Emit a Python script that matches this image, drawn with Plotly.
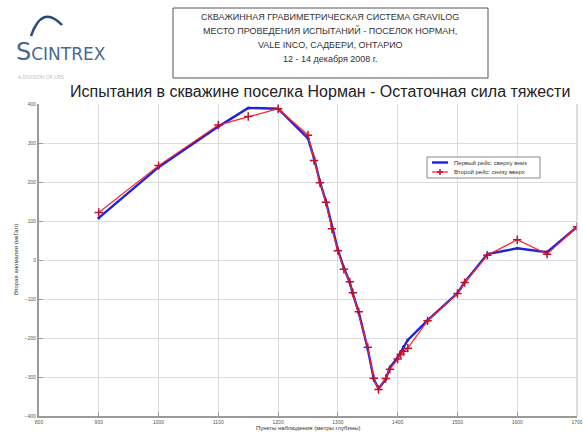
import plotly.graph_objects as go

depth = [900, 1000, 1100, 1150, 1200, 1250, 1260, 1270, 1280, 1290, 1300, 1310, 1320, 1325, 1335,
         1350, 1360, 1368, 1380, 1387, 1400, 1405, 1410, 1417, 1450, 1500, 1512, 1550, 1600, 1650, 1700]
run1 = [108, 238, 342, 390, 388, 312, 262, 200, 150, 85, 26, -20, -58, -86, -135,
        -228, -305, -330, -306, -276, -250, -236, -222, -205, -155, -85, -57, 15, 30, 20, 85]
run2 = [122, 242, 346, 368, 388, 320, 255, 198, 148, 80, 24, -24, -56, -84, -133,
        -224, -303, -332, -304, -280, -254, -242, -234, -226, -156, -86, -58, 12, 52, 15, 85]

x_ticks = [800, 900, 1000, 1100, 1200, 1300, 1400, 1500, 1600, 1700]
y_ticks = [-400, -300, -200, -100, 0, 100, 200, 300, 400]

name1 = "Первый рейс: сверху вниз"
name2 = "Второй рейс: снизу вверх"

header_lines = ["СКВАЖИННАЯ ГРАВИМЕТРИЧЕСКАЯ СИСТЕМА GRAVILOG",
                "МЕСТО ПРОВЕДЕНИЯ ИСПЫТАНИЙ - ПОСЕЛОК НОРМАН,",
                "VALE INCO, САДБЕРИ, ОНТАРИО",
                "12 - 14 декабря 2008 г."]
chart_title = "Испытания в скважине поселка Норман - Остаточная сила тяжести"
x_title = "Пункты наблюдения (метры глубины)"
y_title = "Вторая аномалия (мкГал)"

BLUE = "#2020e0"
RED = "#ff2020"
MRED = "#c01030"

W, H = 583, 435
L, R, T, B = 39, 6, 104, 19
PW, PH = W - L - R, H - T - B


def px(xp):
    return (xp - L) / PW


def py(yp):
    return (H - B - yp) / PH


fig = go.Figure()
fig.add_trace(go.Scatter(x=depth, y=run1, mode="lines+markers", name=name1,
                         line=dict(color=BLUE, width=2.4),
                         marker=dict(symbol="circle", size=3, color=BLUE)))
fig.add_trace(go.Scatter(x=depth, y=run2, mode="lines+markers", name=name2,
                         line=dict(color=RED, width=1.2),
                         marker=dict(symbol="cross-thin", size=6, color=MRED,
                                     line=dict(color=MRED, width=1.5))))

axis_common = dict(showgrid=True, gridcolor="#dcdcdc", gridwidth=1,
                   showline=True, linecolor="#9a9a9a", linewidth=2,
                   ticks="inside", ticklen=4, tickcolor="#9a9a9a",
                   tickfont=dict(size=5, color="#555"), zeroline=False,
                   automargin=False)

fig.update_layout(
    width=W, height=H,
    margin=dict(l=L, r=R, t=T, b=B, autoexpand=False),
    paper_bgcolor="white", plot_bgcolor="white",
    font=dict(family="Liberation Sans, Arial, sans-serif", color="#222"),
    showlegend=False,
    xaxis=dict(range=[800, 1700], tickvals=x_ticks, ticktext=[str(v) for v in x_ticks],
               **axis_common),
    yaxis=dict(range=[-400, 400], tickvals=y_ticks, **axis_common),
)

# right frame line
fig.add_shape(type="line", xref="paper", yref="paper", x0=1, x1=1, y0=0, y1=1,
              line=dict(color="#bbb", width=1))

# axis titles
fig.add_annotation(text=x_title, xref="paper", yref="paper", x=px(308), y=py(428),
                   showarrow=False, xanchor="center", yanchor="middle",
                   font=dict(size=6, color="#333"))
fig.add_annotation(text=y_title, xref="paper", yref="paper", x=px(16), y=py(260),
                   showarrow=False, xanchor="center", yanchor="middle", textangle=-90,
                   font=dict(size=6, color="#333"))

# manual legend
fig.add_shape(type="rect", xref="paper", yref="paper", x0=px(427), x1=px(540),
              y0=py(178), y1=py(157), line=dict(color="#888", width=1), fillcolor="white")
fig.add_shape(type="line", xref="paper", yref="paper", x0=px(432), x1=px(448),
              y0=py(162.5), y1=py(162.5), line=dict(color=BLUE, width=2.4))
fig.add_shape(type="line", xref="paper", yref="paper", x0=px(432), x1=px(448),
              y0=py(172), y1=py(172), line=dict(color=RED, width=1.2))
fig.add_shape(type="line", xref="paper", yref="paper", x0=px(440), x1=px(440),
              y0=py(169), y1=py(175), line=dict(color=MRED, width=1.5))
fig.add_shape(type="line", xref="paper", yref="paper", x0=px(437), x1=px(443),
              y0=py(172), y1=py(172), line=dict(color=MRED, width=1.5))
for txt, yy in [(name1, 162.5), (name2, 172)]:
    fig.add_annotation(text=txt, xref="paper", yref="paper", x=px(452), y=py(yy),
                       showarrow=False, xanchor="left", yanchor="middle",
                       font=dict(size=6, color="#333"))

# header box
fig.add_shape(type="rect", xref="paper", yref="paper",
              x0=px(173), x1=px(488), y0=py(78), y1=py(8),
              line=dict(color="#555", width=1), fillcolor="white")
for i, txt in enumerate(header_lines):
    fig.add_annotation(text=txt, xref="paper", yref="paper",
                       x=px(330), y=py(17 + 14 * i),
                       showarrow=False, font=dict(size=9, color="#333",
                                                  family="Liberation Sans, Arial"),
                       xanchor="center", yanchor="middle")

# logo
fig.add_shape(type="path", xref="paper", yref="paper",
              path="M {:.4f},{:.4f} Q {:.4f},{:.4f} {:.4f},{:.4f}".format(
                  px(31), py(36), px(42), py(4), px(62), py(25)),
              line=dict(color="#2a4a7a", width=2.5))
fig.add_annotation(text="S<span style='font-size:17px'>CINTREX</span>", xref="paper", yref="paper",
                   x=px(14), y=py(52), showarrow=False,
                   xanchor="left", yanchor="middle",
                   font=dict(size=24, color="#4a6a90", family="DejaVu Sans, sans-serif"))
fig.add_annotation(text="A DIVISION OF LRS", xref="paper", yref="paper",
                   x=px(16), y=py(77), showarrow=False,
                   xanchor="left", yanchor="middle",
                   font=dict(size=5, color="#bbb"))

# chart title
fig.add_annotation(text=chart_title, xref="paper", yref="paper",
                   x=px(320), y=py(92), showarrow=False,
                   xanchor="center", yanchor="middle",
                   font=dict(size=16, color="#222"))

fig.write_html("out.html", config={"displayModeBar": False},
               post_script="document.body.style.margin='0';document.body.style.overflow='hidden';")
